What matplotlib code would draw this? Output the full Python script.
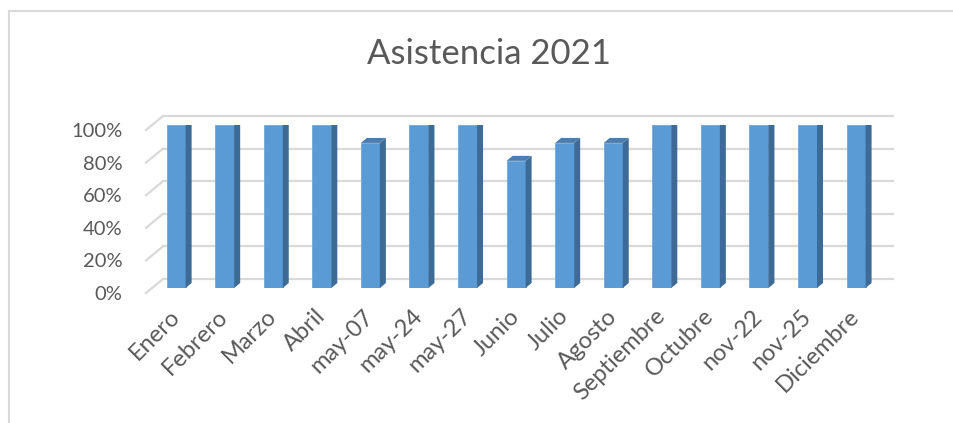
import numpy as np
import matplotlib
matplotlib.use("Agg")
import matplotlib.pyplot as plt
from matplotlib.patches import Polygon, Rectangle
from matplotlib.lines import Line2D
import matplotlib.transforms as mtransforms

categories = ["Enero", "Febrero", "Marzo", "Abril", "may-07", "may-24", "may-27",
              "Junio", "Julio", "Agosto", "Septiembre", "Octubre", "nov-22",
              "nov-25", "Diciembre"]
asistencia = [1.00, 1.00, 1.00, 1.00, 0.89, 1.00, 1.00,
              0.78, 0.89, 0.89, 1.00, 1.00, 1.00, 1.00, 1.00]
ytick_values = [0.0, 0.2, 0.4, 0.6, 0.8, 1.0]
ytick_labels = ["0%", "20%", "40%", "60%", "80%", "100%"]

W, H, DPI = 954, 423, 100
FONT = ["Lato", "DejaVu Sans"]
TXT = "#595959"
FRONT, SIDE, TOP = "#5B9BD5", "#3D6B96", "#4A7EB3"
GRID = "#D9D9D9"

fig = plt.figure(figsize=(W / DPI, H / DPI), dpi=DPI)
plt.rcParams["font.family"] = FONT

# axes placed in pixel terms (front face of the bars)
left_px, right_px, bot_px, top_px = 146, 876, 288, 125
ax = fig.add_axes([left_px / W, 1 - bot_px / H,
                   (right_px - left_px) / W, (bot_px - top_px) / H])
x = np.arange(len(categories))
ax.set_xlim(-0.62, len(categories) - 1 + 0.41)
ax.set_ylim(0, 1)
for s in ax.spines.values():
    s.set_visible(False)

xl, xr = ax.get_xlim()
px_x = (right_px - left_px) / (xr - xl)
px_y = (bot_px - top_px) / 1.0

# back wall gridlines + left wall diagonals
back_dx, back_dy = 17 / px_x, 9 / px_y
front_dy = -5 / px_y
for v in ytick_values:
    ax.add_line(Line2D([xl + back_dx, xr + back_dx], [v + back_dy, v + back_dy],
                       color=GRID, lw=1.6, zorder=1, clip_on=False))
    ax.add_line(Line2D([xl, xl + back_dx], [v + front_dy, v + back_dy],
                       color=GRID, lw=1.6, zorder=1, clip_on=False))

# 3D columns
w = 19 / px_x
ddx, ddy = 6 / px_x, 5 / px_y
for xi, v in zip(x, asistencia):
    x0, x1 = xi - w / 2, xi + w / 2
    ax.add_patch(Rectangle((x0, 0), w, v, facecolor=FRONT, edgecolor="#6FA6D8",
                           lw=0.6, zorder=3))
    ax.add_patch(Polygon([(x1, 0), (x1, v), (x1 + ddx, v + ddy), (x1 + ddx, ddy)],
                         closed=True, facecolor=SIDE, edgecolor="none", zorder=3))
    ax.add_patch(Polygon([(x0, v), (x1, v), (x1 + ddx, v + ddy), (x0 + ddx, v + ddy)],
                         closed=True, facecolor=TOP, edgecolor="none", zorder=3))

# ticks
ax.set_yticks(ytick_values)
ax.set_yticklabels(ytick_labels, fontsize=14.5, color=TXT, family=FONT)
ax.tick_params(axis="y", length=0, pad=17)
shift = mtransforms.ScaledTranslation(0, -5 / DPI, fig.dpi_scale_trans)
for lab in ax.get_yticklabels():
    lab.set_transform(lab.get_transform() + shift)

ax.set_xticks(x)
ax.set_xticklabels(categories, rotation=45, ha="right", va="center",
                   rotation_mode="anchor", fontsize=17, color=TXT, family=FONT)
ax.tick_params(axis="x", length=0, pad=18)

fig.text(489 / W, 1 - 54 / H, "Asistencia 2021", ha="center", va="center",
         fontsize=25, color=TXT, family=FONT)

# chart border (top and left visible)
fig.add_artist(Line2D([9 / W, 1], [1 - 11 / H, 1 - 11 / H], color=GRID, lw=1.5,
                      transform=fig.transFigure))
fig.add_artist(Line2D([9 / W, 9 / W], [0, 1 - 11 / H], color=GRID, lw=1.5,
                      transform=fig.transFigure))

fig.savefig("out.png", dpi=DPI)
